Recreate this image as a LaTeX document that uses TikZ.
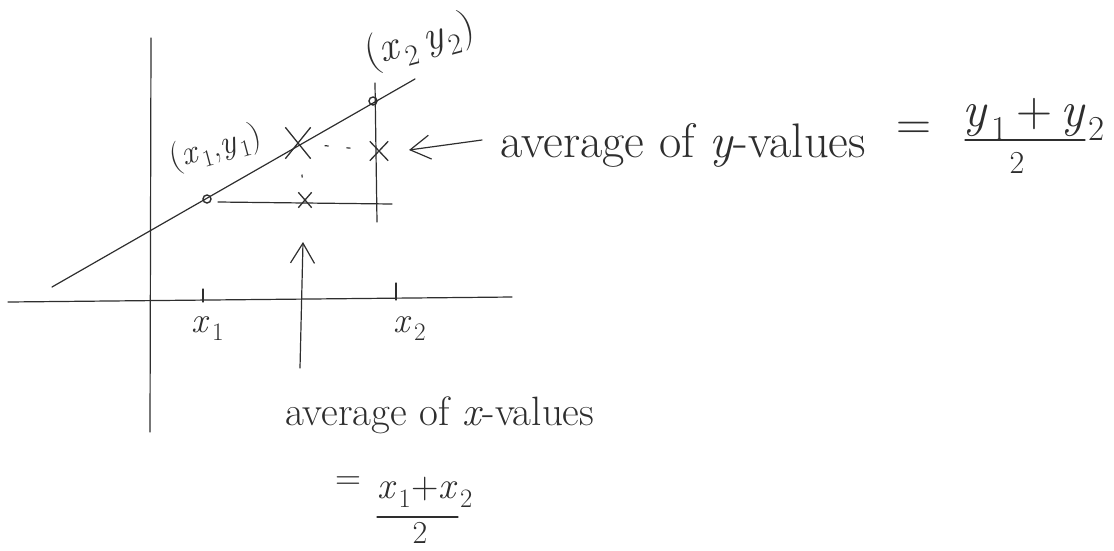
\documentclass[tikz,border=0pt]{standalone}
\usetikzlibrary{arrows.meta,shapes.misc}
\definecolor{pencil}{gray}{0.18}
\newcommand{\vsub}[2]{\textit{#1}\kern0.06em\textsubscript{#2}}
\tikzset{
  stroke/.style={draw=pencil, line width=1.2pt, line cap=round},
  barb/.style={-{Straight Barb[length=20pt,width=24pt,line width=1.2pt]}},
  guide/.style={draw=pencil, line width=1.2pt, dash pattern=on 4pt off 18pt},
  dotpt/.style={circle, draw=pencil, line width=1.4pt, minimum size=8pt, inner sep=0pt},
  xmark/.style={cross out, draw=pencil, line width=1.3pt, inner sep=0pt},
  lbl/.style={text=pencil, inner sep=0pt},
  hugetxt/.style={lbl, font=\fontsize{48.5}{54}\selectfont},
  bigtxt/.style={lbl, font=\fontsize{41}{46}\selectfont},
  midtxt/.style={lbl, font=\fontsize{36}{40}\selectfont},
  smalltxt/.style={lbl, font=\fontsize{32}{36}\selectfont},
}
\begin{document}
\begin{tikzpicture}[x=1pt,y=-1pt]
\useasboundingbox (0,0) rectangle (1114,550);
% axes
\coordinate (yT) at (151,38);
\coordinate (yB) at (150,432);
\coordinate (xL) at (8,302);
\coordinate (xR) at (512,297);
\draw[stroke] (yB) -- (yT);
\draw[stroke] (xL) -- (xR);
% ticks
\coordinate (t1a) at (203,289); \coordinate (t1b) at (203,302);
\coordinate (t2a) at (396,283); \coordinate (t2b) at (396,300);
\draw[stroke] (t1a) -- (t1b);
\draw[stroke] (t2a) -- (t2b);
\node[midtxt, anchor=base] (lx1) at (208,332) {\vsub{x}{1}};
\node[midtxt, anchor=base] (lx2) at (410,332) {\vsub{x}{2}};
% straight line through the two points
\coordinate (lnA) at (52,287);
\coordinate (lnB) at (415,79);
\draw[stroke] (lnA) -- (lnB);
\node[dotpt] (P1) at (207,199) {};
\node[dotpt] (P2) at (373,101) {};
\node[lbl, font=\fontsize{34}{40}\selectfont, rotate=15] (lP1) at (216,148) {(\vsub{x}{1},\vsub{y}{1})};
\node[lbl, font=\fontsize{42}{48}\selectfont, rotate=15] (lP2) at (420,42) {(\vsub{x}{2}\,\vsub{y}{2})};
% construction lines
\coordinate (vT) at (375,83);
\coordinate (vB) at (377,222);
\draw[stroke] (vT) -- (vB);
\coordinate (hL) at (218,202);
\coordinate (hR) at (392,204);
\draw[stroke] (hL) -- (hR);
% crosses
\node[xmark, minimum width=24pt, minimum height=30pt] (M) at (298,143) {};
\node[xmark, minimum width=17pt, minimum height=18pt] (R) at (379,151) {};
\node[xmark, minimum width=12pt, minimum height=14pt] (L) at (305,200) {};
\draw[guide, shorten <=14pt, shorten >=12pt] (M) -- (R);
\draw[guide, dash pattern=on 3pt off 12pt, shorten <=16pt, shorten >=10pt] (M) -- (L);
% arrows
\coordinate (la0) at (482,140);
\coordinate (la1) at (409,150);
\draw[stroke, barb] (la0) -- (la1);
\coordinate (ua0) at (300,368);
\coordinate (ua1) at (303,242);
\draw[stroke, barb] (ua0) -- (ua1);
% y-average text
\node[hugetxt, anchor=base west] (ty) at (500,157) {average of \textit{y}-values};
\node[hugetxt] (eqy) at (914,131) {=};
\node[lbl, font=\fontsize{50}{56}\selectfont, anchor=base] (numy) at (1034,126) {\vsub{y}{1}\,+\,\vsub{y}{2}};
\coordinate (fy0) at (965,140);
\coordinate (fy1) at (1085,140);
\draw[stroke] (fy0) -- (fy1);
\node[smalltxt, anchor=base] (deny) at (1017,173) {2};
% x-average text
\node[bigtxt, anchor=base west] (tx) at (285,425) {average of \textit{x}-values};
\node[midtxt] (eqx) at (348,483) {=};
\node[lbl, font=\fontsize{38}{44}\selectfont, anchor=base] (numx) at (425,498) {\vsub{x}{1}+\vsub{x}{2}};
\coordinate (fx0) at (377,517);
\coordinate (fx1) at (458,517);
\draw[stroke] (fx0) -- (fx1);
\node[smalltxt, anchor=base] (denx) at (420,543) {2};
\end{tikzpicture}
\end{document}
